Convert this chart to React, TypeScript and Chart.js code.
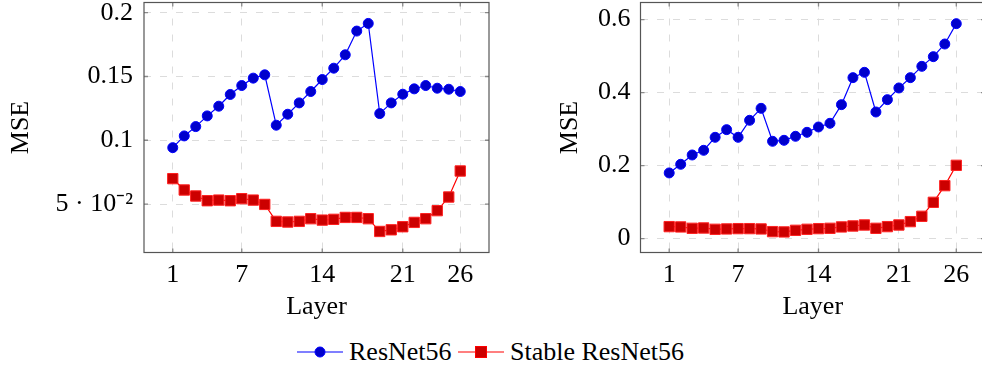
import React, { useEffect, useRef } from "react";
import { Chart, registerables } from "chart.js";

Chart.register(...registerables);

const layers = [1, 2, 3, 4, 5, 6, 7, 8, 9, 10, 11, 12, 13, 14, 15, 16, 17, 18, 19, 20, 21, 22, 23, 24, 25, 26];
const xTickValues = [1, 7, 14, 21, 26];

const leftResNet = [0.0942, 0.1034, 0.1107, 0.1191, 0.1267, 0.1359, 0.1429, 0.1487, 0.1513, 0.1118, 0.1204, 0.1293, 0.1382, 0.1476, 0.1565, 0.167, 0.1856, 0.1916, 0.1209, 0.1293, 0.1361, 0.1403, 0.1429, 0.1408, 0.14, 0.1382];
const leftStable = [0.0699, 0.061, 0.0563, 0.0526, 0.0531, 0.0526, 0.0542, 0.0531, 0.0497, 0.0364, 0.0359, 0.0364, 0.0385, 0.0374, 0.038, 0.0395, 0.0395, 0.0385, 0.0285, 0.0298, 0.0322, 0.0356, 0.0385, 0.0448, 0.0555, 0.0759];
const leftYTicks = [0.05, 0.1, 0.15, 0.2];
const leftYLabels = ["5 · 10⁻²", "0.1", "0.15", "0.2"];

const rightResNet = [0.18, 0.2037, 0.2292, 0.242, 0.2776, 0.2986, 0.2776, 0.3242, 0.357, 0.2667, 0.2694, 0.2804, 0.2913, 0.3059, 0.316, 0.3671, 0.4411, 0.4557, 0.347, 0.3808, 0.4128, 0.4411, 0.4721, 0.4986, 0.5333, 0.589];
const rightStable = [0.0329, 0.032, 0.0283, 0.0292, 0.0256, 0.0265, 0.0274, 0.0274, 0.0265, 0.0192, 0.0183, 0.0228, 0.0256, 0.0274, 0.0283, 0.032, 0.0347, 0.0374, 0.0283, 0.0329, 0.0374, 0.0466, 0.0612, 0.0995, 0.1452, 0.2009];
const rightYTicks = [0, 0.2, 0.4, 0.6];
const rightYLabels = ["0", "0.2", "0.4", "0.6"];

const FONT = "'Liberation Serif', 'Times New Roman', serif";
const CANVAS_H = 330;
const PLOT_BOTTOM = 252.5;
const PLOT_TOP = 2.5;

const framePlugin = {
  id: "pgfFrame",
  beforeDatasetsDraw(chart: any) {
    const { ctx, chartArea: a, scales } = chart;
    const xs = scales.x;
    const ys = scales.y;
    ctx.save();
    ctx.strokeStyle = "#8a8a8a";
    ctx.lineWidth = 1.3;
    ctx.beginPath();
    for (const t of xs.ticks) {
      const px = xs.getPixelForValue(t.value);
      ctx.moveTo(px, a.top);
      ctx.lineTo(px, a.top + 4);
      ctx.moveTo(px, a.bottom);
      ctx.lineTo(px, a.bottom - 4);
    }
    for (const t of ys.ticks) {
      const py = ys.getPixelForValue(t.value);
      ctx.moveTo(a.left, py);
      ctx.lineTo(a.left + 4, py);
      ctx.moveTo(a.right, py);
      ctx.lineTo(a.right - 4, py);
    }
    ctx.stroke();
    ctx.strokeStyle = "#555555";
    ctx.lineWidth = 1.2;
    ctx.strokeRect(a.left, a.top, a.right - a.left, a.bottom - a.top);
    ctx.restore();
  },
};

type PanelProps = {
  left: number;
  width: number;
  resnet: number[];
  stable: number[];
  yMin: number;
  yMax: number;
  yTicks: number[];
  yLabels: string[];
  yAxisWidth: number;
  yTickPad: number;
  yTitlePad: number;
  padRight: number;
};

function Panel(p: PanelProps) {
  const ref = useRef<HTMLCanvasElement | null>(null);
  useEffect(() => {
    if (!ref.current) return;
    const font = { family: FONT, size: 26, lineHeight: 1.2 };
    const chart = new Chart(ref.current, {
      type: "line",
      data: {
        datasets: [
          {
            label: "ResNet56",
            data: layers.map((x, i) => ({ x, y: p.resnet[i] })),
            borderColor: "#0000ff",
            backgroundColor: "#0000cc",
            pointBackgroundColor: "#0000cc",
            pointBorderColor: "#0000ff",
            pointBorderWidth: 1,
            pointRadius: 5,
            pointStyle: "circle",
            borderWidth: 1.2,
            tension: 0,
          },
          {
            label: "Stable ResNet56",
            data: layers.map((x, i) => ({ x, y: p.stable[i] })),
            borderColor: "#ff0000",
            backgroundColor: "#cc0000",
            pointBackgroundColor: "#cc0000",
            pointBorderColor: "#ff2020",
            pointBorderWidth: 1,
            pointRadius: 7.3,
            pointStyle: "rect",
            borderWidth: 1.2,
            tension: 0,
          },
        ],
      },
      options: {
        responsive: false,
        animation: false,
        devicePixelRatio: 1,
        layout: { autoPadding: false, padding: { left: 0, right: p.padRight, top: PLOT_TOP, bottom: 0 } },
        plugins: { legend: { display: false }, tooltip: { enabled: false } },
        scales: {
          x: {
            type: "linear",
            min: -1.5,
            max: 28.5,
            afterBuildTicks: (s: any) => {
              s.ticks = xTickValues.map((v) => ({ value: v }));
            },
            afterFit: (s: any) => {
              s.height = CANVAS_H - PLOT_BOTTOM;
              s.paddingLeft = 0;
              s.paddingRight = 0;
            },
            grid: { color: "#dcdcdc", lineWidth: 1, drawTicks: false },
            border: { display: false, dash: [7, 9] },
            ticks: {
              padding: 7,
              font,
              color: "#000",
              autoSkip: false,
              maxRotation: 0,
              callback: (v: any) => String(v),
            },
            title: { display: true, text: "Layer", font, color: "#000", padding: { top: 0, bottom: 7.4 } },
          },
          y: {
            type: "linear",
            min: p.yMin,
            max: p.yMax,
            afterBuildTicks: (s: any) => {
              s.ticks = p.yTicks.map((v) => ({ value: v }));
            },
            afterFit: (s: any) => {
              s.width = p.yAxisWidth;
              s.paddingTop = 0;
              s.paddingBottom = 0;
            },
            grid: { color: "#dcdcdc", lineWidth: 1, drawTicks: false },
            border: { display: false, dash: [7, 9] },
            ticks: {
              padding: p.yTickPad,
              font,
              color: "#000",
              autoSkip: false,
              callback: (v: any) => {
                const idx = p.yTicks.findIndex((t) => Math.abs(t - Number(v)) < 1e-9);
                return idx >= 0 ? p.yLabels[idx] : "";
              },
            },
            title: { display: true, text: "MSE", font, color: "#000", padding: { top: p.yTitlePad, bottom: 0 } },
          },
        },
      },
      plugins: [framePlugin],
    } as any);
    return () => chart.destroy();
  }, []);
  return (
    <canvas
      ref={ref}
      width={p.width}
      height={CANVAS_H}
      style={{ position: "absolute", left: p.left, top: 0, width: p.width, height: CANVAS_H }}
    />
  );
}

function LegendItem({ color, fill, square, text, left }: { color: string; fill: string; square: boolean; text: string; left: number }) {
  return (
    <div style={{ position: "absolute", left, top: 339, height: 26, display: "flex", alignItems: "center", whiteSpace: "nowrap" }}>
      <svg width={46} height={16} style={{ display: "block" }}>
        <line x1={0} y1={8} x2={46} y2={8} stroke={color} strokeWidth={1.2} />
        {square ? (
          <rect x={17.5} y={2.5} width={11} height={11} fill={fill} stroke={color} strokeWidth={1} />
        ) : (
          <circle cx={23} cy={8} r={5} fill={fill} stroke={color} strokeWidth={1} />
        )}
      </svg>
      <span style={{ marginLeft: 6, fontFamily: FONT, fontSize: 26, lineHeight: "26px", color: "#000" }}>{text}</span>
    </div>
  );
}

export default function App() {
  return (
    <div style={{ position: "fixed", left: 0, top: 0, width: 982, height: 367, overflow: "hidden", background: "#fff" }}>
      <Panel
        left={0}
        width={495}
        resnet={leftResNet}
        stable={leftStable}
        yMin={0.012}
        yMax={0.208}
        yTicks={leftYTicks}
        yLabels={leftYLabels}
        yAxisWidth={144}
        yTickPad={11}
        yTitlePad={5.4}
        padRight={6}
      />
      <Panel
        left={495}
        width={500}
        resnet={rightResNet}
        stable={rightStable}
        yMin={-0.038}
        yMax={0.647}
        yTicks={rightYTicks}
        yLabels={rightYLabels}
        yAxisWidth={145.5}
        yTickPad={10}
        yTitlePad={59.4}
        padRight={10}
      />
      <LegendItem color="#0000ff" fill="#0000cc" square={false} text="ResNet56" left={297} />
      <LegendItem color="#ff0000" fill="#cc0000" square={true} text="Stable ResNet56" left={458} />
    </div>
  );
}
